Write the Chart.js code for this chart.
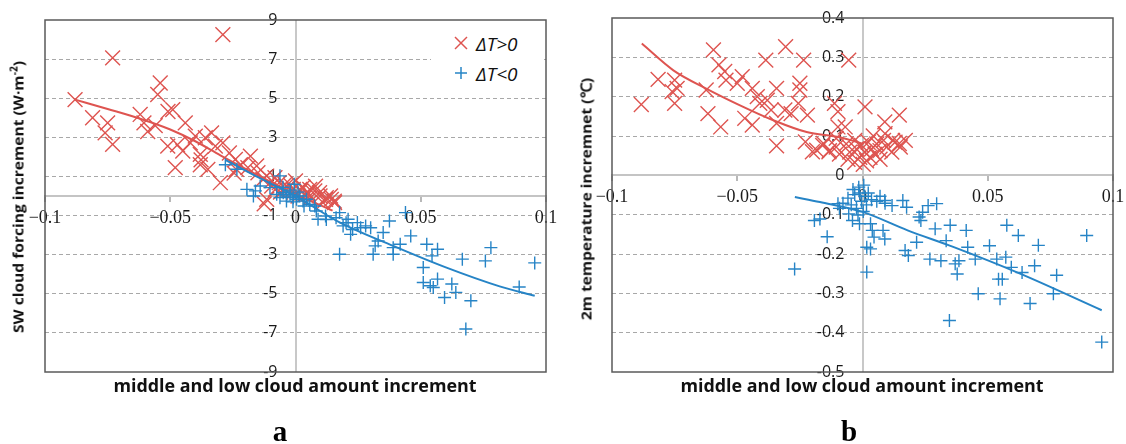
<!DOCTYPE html>
<html><head><meta charset="utf-8">
<script src="https://cdn.jsdelivr.net/npm/chart.js@4.4.1/dist/chart.umd.min.js"></script>
<style>
html,body{margin:0;padding:0;background:#fff;}
#wrap{position:relative;width:1126px;height:444px;overflow:hidden;background:#fff;}
canvas{position:absolute;top:0;}
#ca{left:0;} #cb{left:560px;}
.t{position:absolute;white-space:nowrap;font-family:'Open Sans',sans-serif;font-weight:700;color:#111;line-height:1;}
.cap{position:absolute;font-family:'Liberation Serif',serif;font-weight:700;font-size:29px;color:#000;line-height:1;transform:translate(-50%,-50%);}
.lt{position:absolute;font-family:'Open Sans',sans-serif;font-style:italic;font-size:19px;color:#111;line-height:1;transform:translateY(-50%);}
.ls{position:absolute;width:20px;height:20px;transform:translate(-50%,-50%);}
sup{font-size:0.65em;line-height:0;}
</style></head><body>
<div id="wrap">
<canvas id="ca" width="560" height="444"></canvas>
<canvas id="cb" width="566" height="444"></canvas>
<div id="legbg" style="position:absolute;left:431px;top:22px;width:113px;height:70px;background:#fff;"></div>
<svg class="ls" style="left:461px;top:43px" viewBox="0 0 20 20"><line x1="4" y1="4" x2="16" y2="16" stroke="rgb(222,84,80)" stroke-width="1.5"/><line x1="16" y1="4" x2="4" y2="16" stroke="rgb(222,84,80)" stroke-width="1.5"/></svg>
<div class="lt" style="left:476px;top:44px">ΔT&gt;0</div>
<svg class="ls" style="left:461px;top:73px" viewBox="0 0 20 20"><line x1="10" y1="4" x2="10" y2="16" stroke="rgb(38,132,198)" stroke-width="1.5"/><line x1="4" y1="10" x2="16" y2="10" stroke="rgb(38,132,198)" stroke-width="1.5"/></svg>
<div class="lt" style="left:476px;top:74px">ΔT&lt;0</div>
<div class="t" id="xta" style="left:295px;top:385px;font-size:18px">middle and low cloud amount increment</div>
<div class="t" id="xtb" style="left:862px;top:385px;font-size:18px">middle and low cloud amount increment</div>
<div class="t" id="yta" style="left:18px;top:197px;font-size:15px">SW cloud forcing increment (W·m<sup>-2</sup>)</div>
<div class="t" id="ytb" style="left:586px;top:199px;font-size:15px">2m temperature incremnet (℃)</div>
<div class="cap" style="left:280px;top:431px">a</div>
<div class="cap" style="left:849px;top:431px">b</div>
</div>
<script>
// ---------- data ----------
const xTickValues = [-0.1, -0.05, 0, 0.05, 0.1];
const xTickLabels = ['\u22120.1', '\u22120.05', '0', '0.05', '0.1'];
const yTickValuesA = [-9, -7, -5, -3, -1, 1, 3, 5, 7, 9];
const yTickLabelsA = ['-9', '-7', '-5', '-3', '-1', '1', '3', '5', '7', '9'];
const yTickValuesB = [-0.5, -0.4, -0.3, -0.2, -0.1, 0, 0.1, 0.2, 0.3, 0.4];
const yTickLabelsB = ['-0.5', '-0.4', '-0.3', '-0.2', '-0.1', '0', '0.1', '0.2', '0.3', '0.4'];
const seriesNames = ['\u0394T>0', '\u0394T<0'];

// panel a : SW cloud forcing increment, points with dT>0
const redA = [[-0.088,4.93],[-0.073,7.06],[-0.029,8.25],[-0.081,4.0],[-0.075,3.74],[-0.076,3.23],[-0.073,2.64],
[-0.062,4.17],[-0.0605,3.74],[-0.059,3.3],[-0.056,3.6],[-0.054,5.78],[-0.055,5.19],[-0.049,4.42],[-0.044,3.74],
[-0.051,2.55],[-0.048,1.45],[-0.045,2.3],[-0.042,2.72],[-0.040,3.06],[-0.038,2.13],[-0.036,2.98],[-0.0335,3.23],
[-0.038,1.6],[-0.035,1.36],[-0.032,2.55],[-0.029,2.72],[-0.030,0.68],[-0.0264,2.2],[-0.024,1.87],[-0.022,1.6],
[-0.018,2.04],[-0.019,1.45],[-0.0236,1.36],[-0.0155,1.54],[-0.0115,1.02],[-0.0094,0.77],[-0.0115,-0.17],[-0.0125,-0.4],
[-0.0082,0.94],[-0.0065,0.68],[-0.0042,0.6],[-0.0095,0.51],[-0.0037,0.51],[0.0,0.77],[-0.0009,0.34],[0.0017,0.34],
[0.002,0.26],[0.0037,0.085],[0.0048,0.17],[0.0057,0.34],[0.0077,0.26],[0.0096,0.17],[0.0098,0.0],[0.012,-0.17],
[0.0123,-0.085],[0.014,0.0],[0.0143,-0.17],[0.0155,-0.26],[0.0156,-0.34],[0.011,-0.34],[0.006,-0.08],[-0.005,0.26],
[-0.008,0.34],[-0.013,0.85],[-0.015,1.19],[-0.002,0.55],[0.003,0.45],[0.008,0.5],[0.005,0.1],[-0.006,0.2],[0.001,0.0],
[-0.0471,2.62],[-0.0377,1.85],[-0.0245,1.17],[-0.0509,4.32]];
// panel a : points with dT<0
const blueA = [[-0.028,1.6],[-0.0234,1.37],[-0.0194,0.34],[-0.016,0.26],[-0.0168,0.0],[-0.0141,0.51],[-0.0102,0.43],
[-0.0062,1.03],[-0.0049,0.17],[-0.0036,0.0],[-0.0022,0.085],[-0.0009,-0.085],[0.0004,-0.17],[0.0017,0.0],[0.003,-0.26],
[0.0044,-0.17],[0.0057,-0.43],[0.0077,-0.51],[-0.0036,-0.26],[-0.0062,-0.085],[-0.0075,0.085],[-0.005,0.45],[-0.002,0.3],
[0.001,0.2],[-0.0005,0.6],[-0.001,-0.3],[0.0083,-0.77],[0.0034,-0.51],[0.009,-1.19],[0.012,-1.02],[0.0123,-1.2],
[0.0162,-1.11],[0.0176,-0.85],[0.019,-1.53],[0.0202,-1.37],[0.021,-1.19],[0.0228,-1.71],[0.022,-1.96],[0.0247,-1.36],
[0.026,-1.62],[0.028,-1.53],[0.030,-1.62],[0.0176,-2.98],[0.0318,-2.55],[0.031,-2.98],[0.033,-2.3],[0.035,-1.87],
[0.0375,-1.28],[0.039,-2.64],[0.039,-2.98],[0.0418,-2.47],[0.0439,-0.85],[0.046,-2.04],[0.0524,-2.47],[0.0545,-3.06],
[0.0567,-2.72],[0.051,-3.66],[0.051,-4.42],[0.0538,-4.59],[0.055,-4.68],[0.0567,-4.25],[0.0595,-5.19],[0.0624,-4.5],
[0.064,-4.93],[0.0666,-3.23],[0.070,-5.36],[0.068,-6.8],[0.0758,-3.32],[0.078,-2.64],[0.0893,-4.65],[0.0955,-3.42]];
const redTrendA = [[-0.088,4.93],[-0.075,4.45],[-0.062,3.95],[-0.05,3.4],[-0.04,2.8],[-0.03,2.08],[-0.0165,1.16],[0,0.1],[0.0148,-0.75]];
const blueTrendA = [[-0.028,1.85],[-0.014,0.9],[0,0.0],[0.0176,-1.35],[0.039,-2.55],[0.06,-3.65],[0.0815,-4.62],[0.0955,-5.1]];

// panel b : 2m temperature increment
const redB = [[-0.0883,0.18],[-0.0816,0.244],[-0.075,0.242],[-0.076,0.213],[-0.075,0.183],[-0.074,0.221],[-0.0624,0.217],
[-0.0595,0.319],[-0.0617,0.157],[-0.0573,0.281],[-0.0566,0.123],[-0.055,0.264],[-0.0545,0.242],[-0.050,0.234],[-0.048,0.251],
[-0.047,0.145],[-0.044,0.221],[-0.044,0.128],[-0.042,0.2],[-0.041,0.183],[-0.0386,0.293],[-0.038,0.191],[-0.0365,0.166],
[-0.0343,0.221],[-0.0343,0.132],[-0.0343,0.075],[-0.0307,0.327],[-0.031,0.166],[-0.0285,0.157],[-0.0235,0.293],[-0.025,0.234],
[-0.025,0.217],[-0.0256,0.183],[-0.022,0.153],[-0.0228,0.085],[-0.020,0.06],[-0.0183,0.064],[-0.0112,0.183],[-0.0098,0.162],
[-0.0069,0.123],[-0.0098,0.123],[-0.0055,0.293],[0.001,0.174],[0.0089,0.136],[0.0147,0.153],[-0.0105,0.094],[-0.0134,0.06],
[-0.0156,0.081],[0.012,0.089],[0.0147,0.081],
[-0.0105,0.072],[-0.0092,0.054],[-0.0065,0.080],[-0.0051,0.059],[-0.0031,0.089],[-0.0024,0.067],[-0.0011,0.046],[-0.0004,0.076],
[0.0009,0.059],[0.0016,0.037],[0.0023,0.084],[0.0036,0.067],[0.005,0.054],[0.0057,0.08],[0.007,0.063],[0.0084,0.089],
[0.0097,0.072],[0.0117,0.059],[0.013,0.084],[0.0151,0.072],[0.0171,0.089],[-0.0031,0.033],[0.0003,0.028],[-0.0058,0.041],
[0.003,0.046],[0.007,0.041],[-0.0132,0.063],[-0.0159,0.076],[0.009,0.106],[0.0043,0.10]];
const blueB = [[-0.0271,-0.238],[-0.0141,-0.156],[-0.0192,-0.115],[-0.017,-0.111],[-0.0098,-0.072],[-0.0055,-0.098],[-0.004,-0.115],
[-0.0012,-0.123],[0.0017,-0.183],[0.0032,-0.187],[0.0017,-0.246],[0.0032,-0.123],[0.0039,-0.14],[0.0046,-0.157],[0.0082,-0.14],
[0.0089,-0.162],[0.0089,-0.064],[0.0118,-0.077],[0.0161,-0.064],[0.0176,-0.081],[0.017,-0.191],[0.0183,-0.204],[0.0216,-0.17],
[0.0226,-0.106],[0.0233,-0.115],[0.024,-0.094],[0.0262,-0.077],[0.0269,-0.213],[0.029,-0.136],[0.0296,-0.072],[0.0313,-0.217],
[0.0334,-0.166],[0.035,-0.127],[0.0347,-0.369],[0.037,-0.225],[0.0378,-0.251],[0.0385,-0.217],[0.0414,-0.14],[0.042,-0.183],
[0.045,-0.213],[0.0462,-0.301],[0.0507,-0.179],[0.0536,-0.213],[0.0543,-0.264],[0.0549,-0.314],[0.0558,-0.264],[0.0576,-0.127],
[0.0572,-0.208],[0.0594,-0.234],[0.0622,-0.153],[0.0637,-0.247],[0.0669,-0.326],[0.0687,-0.23],[0.0702,-0.178],[0.0775,-0.254],
[0.0762,-0.301],[0.0895,-0.153],[0.0955,-0.424],
[-0.0058,-0.058],[-0.0045,-0.075],[-0.0031,-0.049],[-0.0024,-0.084],[-0.0011,-0.045],[-0.0004,-0.066],[0.0003,-0.092],
[0.0009,-0.053],[-0.0018,-0.101],[0.0016,-0.075],[-0.0078,-0.071],[-0.0092,-0.084],[0.0023,-0.045],[0.0036,-0.062],
[0.0057,-0.066],[0.007,-0.053],[0.009,-0.071],[-0.0038,-0.036],[-0.0015,-0.03],[0.0005,-0.025]];
const redTrendB = [[-0.0881,0.335],[-0.0755,0.267],[-0.0622,0.22],[-0.0489,0.178],[-0.0356,0.14],[-0.0223,0.11],[-0.009,0.097],[0.0003,0.08]];
const blueTrendB = [[-0.027,-0.055],[-0.017,-0.068],[0,-0.093],[0.018,-0.14],[0.0362,-0.182],[0.0629,-0.25],[0.0955,-0.343]];

// ---------- drawing ----------
const RED = 'rgb(222,84,80)', BLUE = 'rgb(38,132,198)';
const toXY = arr => arr.map(p => ({x: p[0], y: p[1]}));
const framePlugin = {
  id: 'frame',
  afterDraw(chart) {
    const {ctx, chartArea: a} = chart;
    ctx.save();
    ctx.strokeStyle = '#5a5a5a'; ctx.lineWidth = 1.5;
    ctx.strokeRect(a.left, a.top, a.right - a.left, a.bottom - a.top);
    ctx.restore();
  }
};

function build(id, o) {
  const scatterDs = (label, pts, style, r, color, order) => ({
    label, data: toXY(pts), pointStyle: style, pointRadius: r, pointBorderColor: color,
    pointBackgroundColor: color, borderColor: color, pointBorderWidth: 1.4, showLine: false, order
  });
  const lineDs = (pts, color, order) => ({
    data: toXY(pts), showLine: true, cubicInterpolationMode: 'monotone', borderColor: color,
    borderWidth: 2, pointRadius: 0, fill: false, order
  });
  return new Chart(document.getElementById(id), {
    type: 'scatter',
    data: {datasets: [
      scatterDs(seriesNames[0], o.red, 'crossRot', o.rr, RED, 4),
      lineDs(o.redTrend, RED, 3),
      scatterDs(seriesNames[1], o.blue, 'cross', o.br, BLUE, 2),
      lineDs(o.blueTrend, BLUE, 1)
    ]},
    options: {
      responsive: false, animation: false, events: [],
      layout: {padding: o.pad},
      plugins: {legend: {display: false}, tooltip: {enabled: false}},
      scales: {
        x: {
          type: 'linear', min: -0.1, max: 0.1, position: {y: 0},
          afterFit(s) { s.height = 0; s.paddingLeft = 0; s.paddingRight = 0; },
          afterBuildTicks(s) { s.ticks = xTickValues.map(v => ({value: v})); },
          ticks: {autoSkip: false, maxRotation: 0, minRotation: 0, padding: 6, color: '#1a1a1a',
            font: {family: '"Liberation Serif", serif', size: 18}, callback: (v, i) => xTickLabels[i]},
          grid: {color: c => (c.tick && c.tick.value === 0) ? '#c8c8c8' : 'rgba(0,0,0,0)', lineWidth: 2,
            drawTicks: true, tickLength: 5, tickColor: '#a0a0a0', tickWidth: 1.5},
          border: {display: true, color: '#c4c4c4', width: 2}
        },
        y: {
          type: 'linear', min: o.yTicks[0], max: o.yTicks[o.yTicks.length - 1], position: {x: -0.0072},
          afterFit(s) { s.width = 0; s.paddingTop = 0; s.paddingBottom = 0; },
          afterBuildTicks(s) { s.ticks = o.yTicks.map(v => ({value: v})); },
          ticks: {autoSkip: false, padding: 0, color: '#1a1a1a',
            font: {family: '"Open Sans", sans-serif', size: 16}, callback: (v, i) => o.yLabels[i]},
          grid: {color: c => {
              const v = c.tick ? c.tick.value : null;
              return (v === null || v === 0 || c.index === 0 || c.index === o.yTicks.length - 1) ? 'rgba(0,0,0,0)' : '#a8a8a8';
            }, lineWidth: 1, drawTicks: false},
          border: {display: false, dash: [4, 3]}
        }
      }
    },
    plugins: [framePlugin]
  });
}

build('ca', {red: redA, blue: blueA, redTrend: redTrendA, blueTrend: blueTrendA, rr: 10.5, br: 6.5,
  yTicks: yTickValuesA, yLabels: yTickLabelsA, pad: {left: 45, top: 20, right: 14, bottom: 72}});
build('cb', {red: redB, blue: blueB, redTrend: redTrendB, blueTrend: blueTrendB, rr: 10.5, br: 6.5,
  yTicks: yTickValuesB, yLabels: yTickLabelsB, pad: {left: 52, top: 18, right: 13, bottom: 72}});

// ---------- fit the axis titles to the reference lengths ----------
function fit(id, target, rot) {
  const el = document.getElementById(id);
  const k = target / el.offsetWidth;
  el.style.transform = 'translate(-50%,-50%)' + (rot ? ' rotate(-90deg)' : '') + ' scaleX(' + k + ')';
}
fit('xta', 363, false); fit('xtb', 363, false);
fit('yta', 272, true); fit('ytb', 242, true);
</script>
</body></html>
